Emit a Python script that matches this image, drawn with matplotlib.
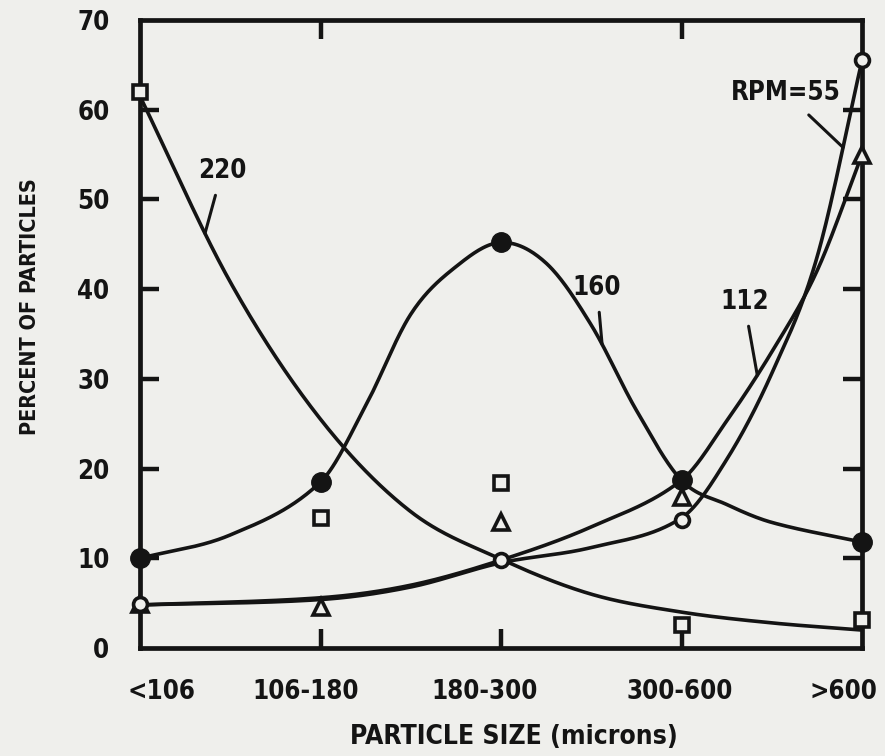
import numpy as np
import matplotlib
matplotlib.use("Agg")
import matplotlib.pyplot as plt
import matplotlib.transforms as mtransforms

# category axis
categories = ['<106', '106-180', '180-300', '300-600', '>600']

# measured points per RPM (percent of particles)
rpm220_pts = [62.0, 14.5, 18.4, 2.6, 3.1]
rpm160_pts = [10.0, 18.5, 45.2, 18.7, 11.8]
rpm112_pts = [4.9, 4.6, 14.0, 16.8, 55.0]
rpm55_pts = [4.9, np.nan, 9.8, 14.3, 65.5]

# hand drawn fitted curves (x in category units)
c220_x = [0, 0.5, 1, 1.5, 2, 2.5, 3, 3.5, 4]
c220_y = [61.5, 40.8, 25.5, 15.2, 9.9, 6.0, 4.0, 2.8, 2.0]
c160_x = [0, 0.5, 1, 1.25, 1.5, 1.75, 2, 2.25, 2.5, 2.75, 3, 3.25, 3.5, 4]
c160_y = [10.0, 12.6, 18.5, 27.0, 37.2, 42.5, 45.2, 42.9, 36.0, 26.5, 18.7, 16.0, 14.0, 11.8]
c112_x = [0, 1, 1.5, 2, 2.5, 3, 3.25, 3.5, 3.75, 4]
c112_y = [4.8, 5.6, 7.0, 9.8, 13.5, 18.7, 25.3, 33.0, 42.0, 55.0]
c55_x = [0, 1, 1.5, 2, 2.5, 3, 3.25, 3.5, 3.75, 4]
c55_y = [4.8, 5.4, 6.8, 9.5, 11.2, 14.5, 21.0, 30.6, 43.5, 65.5]

y_ticks = [0, 10, 20, 30, 40, 50, 60, 70]


def smooth(xk, yk, xs):
    # cubic hermite with finite difference slopes, only for drawing
    xk = np.asarray(xk, float)
    yk = np.asarray(yk, float)
    n = len(xk)
    h = np.diff(xk)
    m = np.empty(n)
    m[1:-1] = (yk[2:] - yk[:-2]) / (xk[2:] - xk[:-2])
    m[0] = (yk[1] - yk[0]) / h[0]
    m[-1] = (yk[-1] - yk[-2]) / h[-1]
    xs = np.asarray(xs, float)
    i = np.clip(np.searchsorted(xk, xs) - 1, 0, n - 2)
    t = (xs - xk[i]) / h[i]
    h00 = 2 * t**3 - 3 * t**2 + 1
    h10 = t**3 - 2 * t**2 + t
    h01 = -2 * t**3 + 3 * t**2
    h11 = t**3 - t**2
    return h00 * yk[i] + h10 * h[i] * m[i] + h01 * yk[i + 1] + h11 * h[i] * m[i + 1]


plt.rcParams['font.family'] = ['DejaVu Sans']
plt.rcParams['font.stretch'] = 'condensed'
plt.rcParams['font.weight'] = 'bold'

paper = '#efefec'
ink = '#141414'
fs = 18.5

fig = plt.figure(figsize=(8.85, 7.56), dpi=100, facecolor=paper)
ax = fig.add_axes([140 / 885, 108 / 756, 722 / 885, 628 / 756])
ax.set_facecolor(paper)

curves = {'220': (c220_x, c220_y), '160': (c160_x, c160_y),
          '112': (c112_x, c112_y), '55': (c55_x, c55_y)}
xs = np.linspace(0, 4, 500)
for cx, cy in curves.values():
    ax.plot(xs, smooth(cx, cy, xs), color=ink, lw=2.6, zorder=2,
            solid_capstyle='round')

xpos = np.arange(len(categories))
mk = dict(linestyle='none', clip_on=False, zorder=4)
ax.plot(xpos, rpm220_pts, marker='s', ms=10, mfc=paper, mec=ink, mew=2.6, **mk)
ax.plot(xpos, rpm160_pts, marker='o', ms=14, mfc=ink, mec=ink, **mk)
ax.plot(xpos, rpm112_pts, marker='^', ms=12, mfc=paper, mec=ink, mew=2.6, **mk)
ax.plot(xpos, rpm55_pts, marker='o', ms=10, mfc=paper, mec=ink, mew=2.6, **mk)

ax.set_xlim(0, 4)
ax.set_ylim(0, 70)

for s in ax.spines.values():
    s.set_linewidth(3.4)
    s.set_color(ink)

ax.set_yticks(y_ticks)
ax.set_yticklabels([str(v) for v in y_ticks])
ax.set_xticks(xpos)
ax.set_xticklabels(categories)
ax.tick_params(axis='both', direction='in', length=14, width=3.2, color=ink,
               labelsize=fs, labelcolor=ink, pad=22)
ax.tick_params(axis='y', right=True, labelright=False)
# top ticks only at two of the categories
top = ax.secondary_xaxis('top')
top.set_xticks([1, 3])
top.set_xticklabels([])
top.tick_params(direction='in', length=14, width=3.2, color=ink)
top.spines['top'].set_visible(False)

# hide tick marks that fall on the spines
for t in ax.xaxis.get_major_ticks():
    if t.get_loc() in (0, 4):
        t.tick1line.set_visible(False)
for t in ax.yaxis.get_major_ticks():
    if t.get_loc() in (0, 70):
        t.tick1line.set_visible(False)
        t.tick2line.set_visible(False)

# nudge the category labels like the original lettering
shifts = [22, -15, -16, -2, -19]
for lab, dx in zip(ax.get_xticklabels(), shifts):
    lab.set_transform(lab.get_transform() +
                      mtransforms.ScaledTranslation(dx / 100, 0, fig.dpi_scale_trans))

fig.text(30 / 885, 1 - 307 / 756, 'PERCENT OF PARTICLES', rotation=90,
         ha='center', va='center', fontsize=15.5, color=ink)
fig.text(514 / 885, 1 - 737 / 756, 'PARTICLE SIZE (microns)',
         ha='center', va='center', fontsize=fs + 0.5, color=ink)

# curve labels with leader lines
labels = [('220', '220', 0.36, (17, 62)),
          ('160', '160', 2.56, (-5, 56)),
          ('112', '112', 3.42, (-13, 73)),
          ('RPM=55', '55', 3.895, (-57, 54))]
for txt, key, xv, off in labels:
    cx, cy = curves[key]
    yv = float(smooth(cx, cy, [xv])[0])
    ax.annotate(txt, xy=(xv, yv), xytext=off, textcoords='offset pixels',
                ha='center', va='center', fontsize=fs, color=ink,
                arrowprops=dict(arrowstyle='-', color=ink, lw=2.2,
                                shrinkA=6, shrinkB=0))

fig.savefig('out.png', dpi=100, facecolor=paper)
